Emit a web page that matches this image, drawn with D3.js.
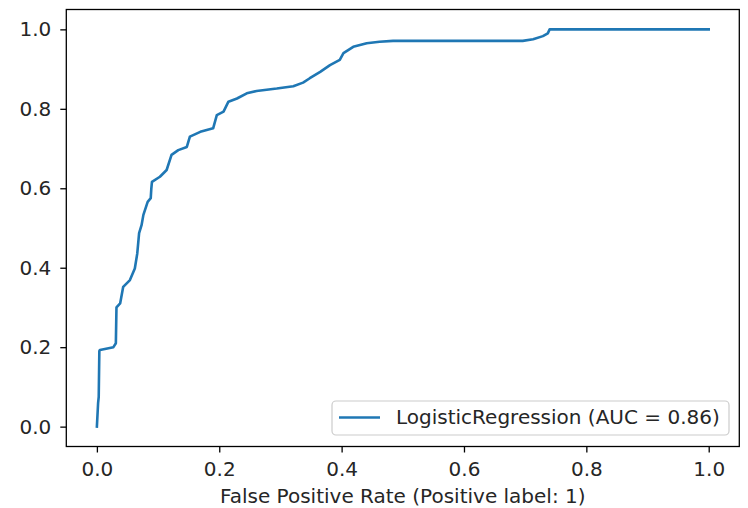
<!DOCTYPE html>
<html>
<head>
<meta charset="utf-8">
<script src="https://cdn.jsdelivr.net/npm/d3@7"></script>
<style>
  body { margin: 0; background: #fff; }
  svg { display: block; font-family: 'DejaVu Sans', sans-serif; }
</style>
</head>
<body>
<svg id="chart" width="748" height="508"></svg>
<script>
// ROC points
const fpr = [0, 0.002, 0.003, 0.004, 0.005, 0.027, 0.031, 0.032, 0.038, 0.043,
  0.054, 0.062, 0.066, 0.068, 0.069, 0.073, 0.076, 0.083, 0.088, 0.089,
  0.09, 0.103, 0.114, 0.122, 0.133, 0.147, 0.152, 0.169, 0.19, 0.196,
  0.207, 0.215, 0.229, 0.245, 0.261, 0.294, 0.321, 0.337, 0.348, 0.365,
  0.381, 0.397, 0.403, 0.419, 0.441, 0.462, 0.484, 0.696, 0.713, 0.729,
  0.737, 0.74, 1.0];
const tpr = [0, 0.06, 0.075, 0.19, 0.193, 0.2, 0.21, 0.3, 0.31, 0.352,
  0.369, 0.398, 0.436, 0.47, 0.487, 0.507, 0.533, 0.566, 0.575, 0.6,
  0.616, 0.629, 0.646, 0.684, 0.696, 0.704, 0.73, 0.742, 0.751, 0.784,
  0.793, 0.818, 0.826, 0.839, 0.845, 0.851, 0.857, 0.866, 0.877, 0.893,
  0.91, 0.923, 0.94, 0.956, 0.965, 0.969, 0.971, 0.971, 0.975, 0.983,
  0.99, 1.0, 1.0];
const xTicks = [0, 0.2, 0.4, 0.6, 0.8, 1.0];
const yTicks = [0, 0.2, 0.4, 0.6, 0.8, 1.0];
const seriesName = 'LogisticRegression (AUC = 0.86)';
const xLabel = 'False Positive Rate (Positive label: 1)';

const svg = d3.select('#chart');
const box = { left: 66.3, right: 739.3, top: 9.5, bottom: 446.5 };
const fs = 20;

const x = d3.scaleLinear().domain([-0.05, 1.05]).range([box.left, box.right]);
const y = d3.scaleLinear().domain([-0.05, 1.05]).range([box.bottom, box.top]);

svg.append('rect')
  .attr('width', 748).attr('height', 508).attr('fill', '#fff');

// roc curve
const pts = fpr.map((f, i) => [f, tpr[i]]);
svg.append('path')
  .datum(pts)
  .attr('d', d3.line().x((d) => x(d[0])).y((d) => y(d[1])))
  .attr('fill', 'none')
  .attr('stroke', '#1f77b4')
  .attr('stroke-width', 2.6)
  .attr('stroke-linejoin', 'round')
  .attr('stroke-linecap', 'square');

// axes
const gx = svg.append('g')
  .attr('transform', `translate(0,${box.bottom})`)
  .call(d3.axisBottom(x).tickValues(xTicks).tickFormat(d3.format('.1f'))
    .tickSize(6).tickSizeOuter(0).tickPadding(9));
const gy = svg.append('g')
  .attr('transform', `translate(${box.left},0)`)
  .call(d3.axisLeft(y).tickValues(yTicks).tickFormat(d3.format('.1f'))
    .tickSize(6).tickSizeOuter(0).tickPadding(9));

[gx, gy].forEach((g) => {
  g.select('.domain').remove();
  g.selectAll('line').attr('stroke', '#000').attr('stroke-width', 1.3);
  g.selectAll('text')
    .attr('font-size', fs)
    .attr('font-family', 'DejaVu Sans')
    .attr('fill', '#262626');
});

// frame
svg.append('rect')
  .attr('x', box.left).attr('y', box.top)
  .attr('width', box.right - box.left)
  .attr('height', box.bottom - box.top)
  .attr('fill', 'none')
  .attr('stroke', '#000')
  .attr('stroke-width', 1.3);

// x label
svg.append('text')
  .attr('x', (box.left + box.right) / 2)
  .attr('y', 502.5)
  .attr('text-anchor', 'middle')
  .attr('font-size', fs)
  .attr('fill', '#262626')
  .text(xLabel);

// legend
const lg = svg.append('g');
lg.append('rect')
  .attr('x', 332).attr('y', 401)
  .attr('width', 397).attr('height', 34)
  .attr('rx', 4).attr('ry', 4)
  .attr('fill', '#fff').attr('fill-opacity', 0.8)
  .attr('stroke', '#cccccc').attr('stroke-width', 1.2);
lg.append('line')
  .attr('x1', 339).attr('x2', 380)
  .attr('y1', 417.5).attr('y2', 417.5)
  .attr('stroke', '#1f77b4').attr('stroke-width', 2.6);
lg.append('text')
  .attr('x', 396).attr('y', 424)
  .attr('font-size', fs)
  .attr('fill', '#262626')
  .text(seriesName);
</script>
</body>
</html>
